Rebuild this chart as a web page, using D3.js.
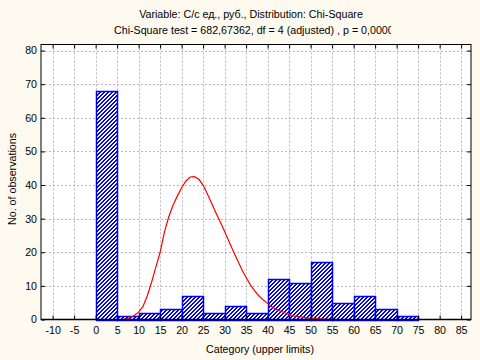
<!DOCTYPE html>
<html><head><meta charset="utf-8">
<script src="https://cdn.jsdelivr.net/npm/d3@7"></script>
<style>
html,body{margin:0;padding:0;background:#fffaf0;}
svg{display:block;font-family:"Liberation Sans",Arial,sans-serif;}
</style></head><body>
<script>
const binStarts = [0,5,10,15,20,25,30,35,40,45,50,55,60,65,70];
const binWidth = 5;
const counts = [68,1,2,3,7,2,4,2,12,11,17,5,7,3,1];
const curveX = [6,7.5,9,10,11,12,13,14,15,16,17,18,19,20,21,22,23,24,25,26,27,28,29,30,31,32,33,34,35,36,37,38,39,40,41,42,43,44,45,46,47,48,49,50,51,52,53,54,55];
const curveY = [0,0.3,1.2,2.2,3.8,7,11,15.5,20,26,30.5,34,36.7,39.2,41.2,42.4,42.5,41.7,40,37.3,34.5,31.7,29,26.2,23.3,20.4,17.6,14.9,12.5,10.3,8.5,7,5.8,4.8,3.8,3,2.5,2,1.5,1.1,0.9,0.7,0.5,0.4,0.3,0.2,0.1,0.05,0];
const xTicks = [-10,-5,0,5,10,15,20,25,30,35,40,45,50,55,60,65,70,75,80,85];
const yTicks = [0,10,20,30,40,50,60,70,80];
const title1 = "Variable: С/с ед., руб., Distribution: Chi-Square";
const title2 = "Chi-Square test = 682,67362, df = 4 (adjusted) , p = 0,00000";
const xTitle = "Category (upper limits)";
const yTitle = "No. of observations";

const W = 480, H = 360;
const L = 41, R = 471, T = 44.5, B = 319.5;
const svg = d3.select("body").append("svg").attr("width", W).attr("height", H);
svg.append("rect").attr("width", W).attr("height", H).attr("fill", "#fffaf0");

// font size calibrated so title line 1 spans ~224px as in the reference
const probe = svg.append("text").attr("font-size", 11).text(title1);
const w11 = probe.node().getComputedTextLength();
probe.remove();
const FS = Math.min(11, 11 * 224 / w11);

const x = d3.scaleLinear().domain([-12.7, 87.3]).range([L, R]);
const y = d3.scaleLinear().domain([0, 81.8]).range([B, T]);

const defs = svg.append("defs");
const pat = defs.append("pattern").attr("id", "hatch").attr("patternUnits", "userSpaceOnUse")
  .attr("width", 4).attr("height", 4);
pat.append("rect").attr("width", 4).attr("height", 4).attr("fill", "#fff");
const cells = [];
for (let r = 0; r < 4; r++) { cells.push([(3 - r) % 4, r]); cells.push([(4 - r) % 4, r]); }
pat.selectAll("rect.p").data(cells).join("rect").attr("class", "p")
  .attr("x", d => d[0]).attr("y", d => d[1]).attr("width", 1).attr("height", 1)
  .attr("fill", "#0000ff").attr("shape-rendering", "crispEdges");
defs.append("clipPath").attr("id", "t2clip").append("rect").attr("x", 0).attr("y", 0).attr("width", 391).attr("height", 45);

// plot area
svg.append("rect").attr("x", L).attr("y", T).attr("width", R - L).attr("height", B - T).attr("fill", "#fff");

// grid
const grid = svg.append("g").attr("stroke", "#b8b8b8").attr("stroke-width", 1).attr("stroke-dasharray", "2,2");
grid.selectAll("line.v").data(xTicks).join("line").attr("class", "v")
  .attr("x1", d => Math.round(x(d)) + 0.5).attr("x2", d => Math.round(x(d)) + 0.5).attr("y1", T).attr("y2", B);
grid.selectAll("line.h").data(yTicks.filter(d => d > 0)).join("line").attr("class", "h")
  .attr("y1", d => Math.round(y(d)) + 0.5).attr("y2", d => Math.round(y(d)) + 0.5).attr("x1", L).attr("x2", R);

// bars
svg.append("g").selectAll("rect").data(binStarts).join("rect")
  .attr("x", d => Math.round(x(d)) + 0.5).attr("width", d => Math.round(x(d + binWidth)) - Math.round(x(d)))
  .attr("y", (d, i) => Math.round(y(counts[i])) + 0.5).attr("height", (d, i) => Math.round(y(0)) - Math.round(y(counts[i])))
  .attr("fill", "url(#hatch)").attr("stroke", "#0000ff").attr("stroke-width", 1.5);

// curve
const pts = curveX.map((v, i) => [v, curveY[i]]);
svg.append("path").datum(pts)
  .attr("d", d3.line().x(d => x(d[0])).y(d => y(d[1])))
  .attr("fill", "none").attr("stroke", "#ff0000").attr("stroke-width", 1.2);

// frame
svg.append("rect").attr("x", L).attr("y", T).attr("width", R - L).attr("height", B - T)
  .attr("fill", "none").attr("stroke", "#000").attr("stroke-width", 1);
svg.append("line").attr("x1", L).attr("x2", R).attr("y1", B).attr("y2", B).attr("stroke", "#000").attr("stroke-width", 1.5);

// axes
function styleAxis(g) {
  g.select(".domain").remove();
  g.selectAll("line").attr("stroke", "#000");
  g.selectAll("text").attr("fill", "#000").attr("font-size", FS).attr("font-family", "'Liberation Sans',Arial,sans-serif");
}
const fmt = d => String(d);
svg.append("g").attr("transform", `translate(0,${B})`)
  .call(d3.axisBottom(x).tickValues(xTicks).tickFormat(fmt).tickSize(-4).tickPadding(7)).call(styleAxis);
svg.append("g").attr("transform", `translate(0,${T})`)
  .call(d3.axisTop(x).tickValues(xTicks).tickFormat("").tickSize(-4)).call(styleAxis);
svg.append("g").attr("transform", `translate(${L},0)`)
  .call(d3.axisLeft(y).tickValues(yTicks).tickFormat(fmt).tickSize(-4).tickPadding(4)).call(styleAxis);
svg.append("g").attr("transform", `translate(${R},0)`)
  .call(d3.axisRight(y).tickValues(yTicks).tickFormat("").tickSize(-4)).call(styleAxis);

// titles
svg.append("text").attr("x", 251).attr("y", 18).attr("text-anchor", "middle").attr("font-size", FS).text(title1);
svg.append("text").attr("x", 114).attr("y", 34).attr("font-size", FS).attr("clip-path", "url(#t2clip)").text(title2);
svg.append("text").attr("x", 260).attr("y", 353).attr("text-anchor", "middle").attr("font-size", FS).text(xTitle);
svg.append("text").attr("transform", "translate(15.5,179) rotate(-90)").attr("text-anchor", "middle").attr("font-size", FS).text(yTitle);
</script>
</body></html>
